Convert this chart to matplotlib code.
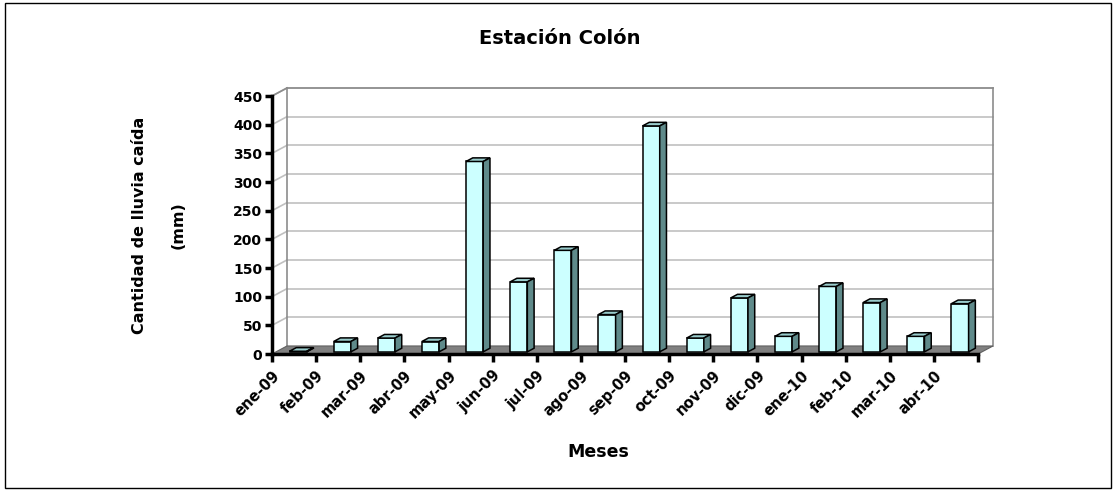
import matplotlib
matplotlib.use("Agg")
import matplotlib.pyplot as plt
from matplotlib.patches import Polygon, Rectangle

# Monthly rainfall, Colón station
months = ["ene-09", "feb-09", "mar-09", "abr-09", "may-09", "jun-09", "jul-09", "ago-09",
          "sep-09", "oct-09", "nov-09", "dic-09", "ene-10", "feb-10", "mar-10", "abr-10"]
rain_mm = [1, 18, 24, 18, 332, 122, 177, 65, 394, 24, 94, 27, 114, 86, 27, 84]
y_ticks = [0, 50, 100, 150, 200, 250, 300, 350, 400, 450]

W, H = 1116, 490
fig = plt.figure(figsize=(W / 100, H / 100), dpi=100)
fig.patch.set_facecolor("white")
ax = fig.add_axes([272 / W, (H - 354) / H, 706 / W, 258 / H])
n = len(months)
ymax = y_ticks[-1]
ax.set_xlim(0, n)
ax.set_ylim(0, ymax)
ax.patch.set_alpha(0)

# pseudo-3D depth of the chart box (in data units)
DX, DY = 0.34, 14.0
# bar placement inside the depth and bar geometry
f_depth, bar_w, bar_d = 0.27, 0.39, 0.45

grid_c = "#C0C0C0"
wall_c = "#8C8C8C"

# floor
ax.add_patch(Polygon([(0, 0), (n, 0), (n + DX, DY), (DX, DY)], closed=True,
                     facecolor="#808080", edgecolor="#606060", lw=0.8,
                     clip_on=False, zorder=1))
# back wall gridlines and left wall diagonals
for v in y_ticks[1:]:
    ax.plot([DX, n + DX], [v + DY, v + DY], color=grid_c, lw=1.2, clip_on=False, zorder=0.5)
    ax.plot([0, DX], [v, v + DY], color=grid_c, lw=1.2, clip_on=False, zorder=0.5)
# wall edges
ax.plot([DX, DX], [DY, ymax + DY], color=wall_c, lw=1.2, clip_on=False, zorder=0.6)
ax.plot([n + DX, n + DX], [DY, ymax + DY], color=wall_c, lw=1.2, clip_on=False, zorder=0.6)
ax.plot([DX, n + DX], [ymax + DY, ymax + DY], color=wall_c, lw=1.2, clip_on=False, zorder=0.6)
ax.plot([0, DX], [ymax, ymax + DY], color=wall_c, lw=1.2, clip_on=False, zorder=0.6)

# bars: front face + top + side
x0 = [i + 0.5 - bar_w / 2 + f_depth * DX for i in range(n)]
y0 = f_depth * DY
ddx, ddy = bar_d * DX, bar_d * DY
ax.bar(x0, rain_mm, width=bar_w, bottom=y0, align="edge",
       color="#CCFFFF", edgecolor="black", lw=1.1, zorder=3, clip_on=False)
for xl, v in zip(x0, rain_mm):
    top = y0 + v
    xr = xl + bar_w
    ax.add_patch(Polygon([(xl, top), (xr, top), (xr + ddx, top + ddy), (xl + ddx, top + ddy)],
                         closed=True, facecolor="#99CCCC", edgecolor="black", lw=1.1,
                         zorder=3, clip_on=False))
    ax.add_patch(Polygon([(xr, y0), (xr + ddx, y0 + ddy), (xr + ddx, top + ddy), (xr, top)],
                         closed=True, facecolor="#5F8A8A", edgecolor="black", lw=1.1,
                         zorder=3, clip_on=False))

# axes styling
for side in ("top", "right"):
    ax.spines[side].set_visible(False)
for side in ("left", "bottom"):
    ax.spines[side].set_linewidth(2.5)
    ax.spines[side].set_zorder(4)
ax.set_yticks(y_ticks)
ax.set_yticklabels([str(t) for t in y_ticks], fontweight="bold", fontsize=10)
ax.tick_params(axis="y", direction="out", length=5, width=2.5, pad=2)
ax.set_xticks(range(n + 1))
ax.set_xticklabels(months + [""], rotation=45, ha="right", rotation_mode="anchor",
                   fontweight="bold", fontsize=10.5)
ax.tick_params(axis="x", direction="out", length=6, width=2.5, pad=4)

# titles and axis labels
fig.text(560 / W, 1 - 38 / H, "Estación Colón", ha="center", va="center",
         fontsize=14, fontweight="bold")
fig.text(598 / W, 1 - 452 / H, "Meses", ha="center", va="center",
         fontsize=12.5, fontweight="bold")
fig.text(140 / W, 1 - 225 / H, "Cantidad de lluvia caída", ha="center", va="center",
         rotation=90, fontsize=11.5, fontweight="bold")
fig.text(178 / W, 1 - 225 / H, "(mm)", ha="center", va="center",
         rotation=90, fontsize=11.5, fontweight="bold")

# chart border
fig.patches.append(Rectangle((5 / W, 2 / H), 1106 / W, 485 / H, transform=fig.transFigure,
                             fill=False, edgecolor="black", lw=1.0))

fig.savefig("out.png", dpi=100)
